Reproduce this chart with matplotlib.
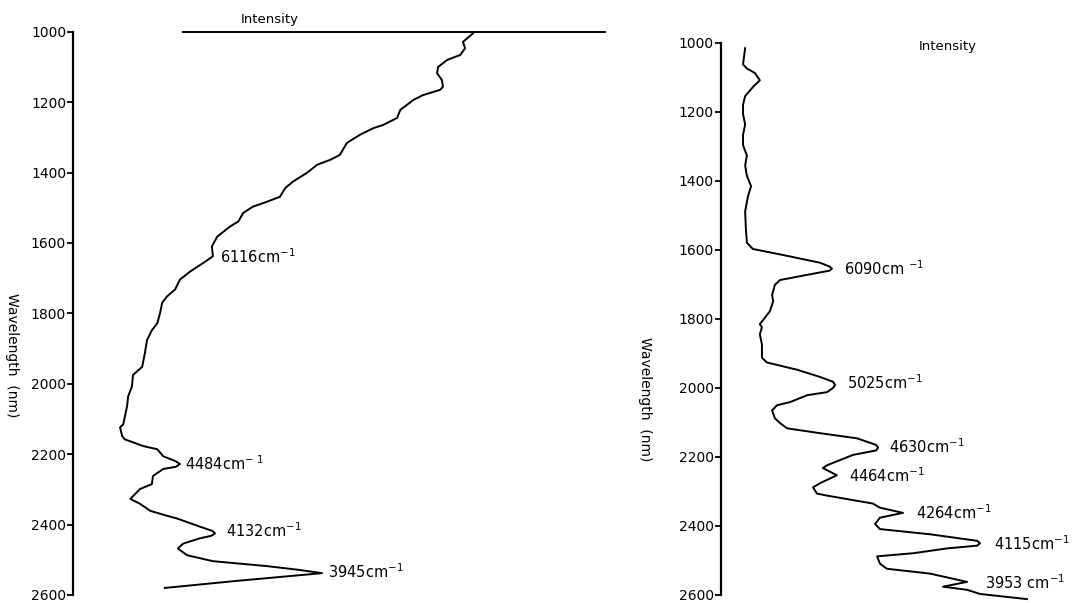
import numpy as np
import matplotlib
matplotlib.use("Agg")
import matplotlib.pyplot as plt

# left spectrum: wavelength (nm) vs intensity (arbitrary units, 0-100)
left_nm = [1004, 1029, 1047, 1066, 1080, 1100, 1118, 1137, 1156, 1165,
           1180, 1194, 1222, 1245, 1265, 1274, 1293, 1316, 1350, 1364,
           1378, 1401, 1426, 1444, 1469, 1483, 1497, 1515, 1539, 1553,
           1582, 1610, 1638, 1657, 1681, 1704, 1732, 1752, 1770, 1800,
           1828, 1848, 1876, 1913, 1952, 1975, 2008, 2036, 2064, 2093,
           2115, 2124, 2149, 2158, 2177, 2186, 2206, 2220, 2228, 2236,
           2242, 2262, 2285, 2299, 2327, 2341, 2361, 2375, 2383, 2406,
           2418, 2425, 2432, 2439, 2454, 2468, 2487, 2504, 2518, 2529,
           2538, 2561, 2580]
left_int = [74.1, 72.2, 72.6, 71.7, 69.3, 67.6, 67.4, 68.3, 68.5, 68.0,
            64.8, 63.0, 60.6, 60.0, 57.4, 55.6, 53.1, 50.7, 49.4, 47.6,
            45.2, 43.3, 40.7, 39.3, 38.3, 35.9, 33.3, 31.5, 30.6, 29.1,
            26.7, 25.7, 25.9, 24.1, 21.7, 19.8, 18.9, 17.4, 16.5, 16.1,
            15.6, 14.6, 13.7, 13.3, 12.8, 11.1, 10.9, 10.2, 10.0, 9.6,
            9.3, 8.7, 9.1, 9.6, 13.0, 15.6, 16.7, 19.0, 19.8, 19.0,
            16.7, 14.8, 14.6, 12.4, 10.6, 12.4, 14.3, 17.4, 19.3, 23.5,
            25.8, 26.3, 25.6, 23.5, 20.4, 19.4, 21.1, 25.9, 35.9, 42.0,
            46.1, 29.6, 17.0]
left_base_int = [20.4, 98.5]   # horizontal reference line at 1000 nm

left_peaks = ["6116cm$^{-1}$", "4484cm$^{-\\ 1}$", "4132cm$^{-1}$", "3945cm$^{-1}$"]
left_peak_nm = [1640, 2228, 2418, 2535]
left_peak_int = [26.9, 20.4, 28.1, 47.0]

# right spectrum
right_nm = [1015, 1062, 1074, 1087, 1108, 1128, 1154, 1179, 1206, 1236,
            1266, 1296, 1326, 1355, 1385, 1415, 1445, 1488, 1536, 1579,
            1597, 1617, 1637, 1648, 1654, 1660, 1665, 1687, 1701, 1730,
            1749, 1777, 1785, 1815, 1824, 1844, 1874, 1912, 1926, 1947,
            1968, 1982, 1991, 2000, 2012, 2021, 2041, 2050, 2065, 2088,
            2102, 2117, 2131, 2146, 2165, 2173, 2181, 2194, 2224, 2232,
            2253, 2276, 2288, 2306, 2312, 2335, 2347, 2362, 2376, 2394,
            2409, 2424, 2443, 2450, 2457, 2465, 2479, 2488, 2509, 2524,
            2538, 2562, 2576, 2585, 2597, 2612]
right_int = [6.9, 6.3, 7.4, 9.7, 11.1, 9.1, 6.9, 6.3, 6.3, 6.9,
             6.3, 6.3, 7.4, 6.9, 7.4, 8.6, 7.7, 6.9, 7.1, 7.4,
             9.1, 18.9, 28.3, 31.0, 31.7, 31.0, 28.3, 16.9, 15.4, 14.6,
             14.9, 14.0, 13.4, 11.1, 11.7, 11.1, 11.7, 11.7, 13.1, 21.7,
             28.3, 32.0, 32.6, 32.0, 30.3, 24.6, 19.7, 16.0, 14.6, 15.4,
             16.9, 18.9, 28.3, 38.9, 44.3, 44.9, 44.3, 37.7, 30.3, 29.1,
             33.1, 28.3, 26.3, 27.4, 30.3, 43.4, 45.4, 52.0, 45.4, 44.0,
             45.4, 59.7, 73.2, 74.0, 73.2, 64.6, 54.9, 44.6, 45.4, 47.4,
             59.7, 70.3, 63.4, 70.3, 74.0, 87.4]

right_peaks = ["6090cm $^{-1}$", "5025cm$^{-1}$", "4630cm$^{-1}$", "4464cm$^{-1}$",
               "4264cm$^{-1}$", "4115cm$^{-1}$", "3953 cm$^{-1}$"]
right_peak_nm = [1655, 1985, 2170, 2255, 2362, 2450, 2565]
right_peak_int = [34.6, 35.4, 47.4, 36.0, 55.1, 77.4, 74.9]

yticks = [1000, 1200, 1400, 1600, 1800, 2000, 2200, 2400, 2600]

fig = plt.figure(figsize=(10.79, 6.03), dpi=100)
ax1 = fig.add_axes([0.0677, 0.0133, 0.5005, 0.9341])
ax2 = fig.add_axes([0.6682, 0.0133, 0.3244, 0.9154])


def style_axis(ax):
    ax.set_ylim(2600, 1000)
    ax.set_xlim(0, 100)
    for s in ["top", "right", "bottom"]:
        ax.spines[s].set_visible(False)
    ax.spines["left"].set_linewidth(1.6)
    ax.set_xticks([])
    ax.set_yticks(yticks)
    ax.tick_params(axis="y", direction="out", length=4, width=1.3,
                   labelsize=10, pad=1)
    ax.patch.set_alpha(0)


style_axis(ax1)
style_axis(ax2)

ax1.plot(left_int, left_nm, color="black", lw=1.4, clip_on=False)
ax1.plot(left_base_int, [1000, 1000], color="black", lw=1.4, clip_on=False)
for lab, y, x in zip(left_peaks, left_peak_nm, left_peak_int):
    ax1.text(x + 0.3, y, lab, fontsize=10.5, va="center", ha="left")
ax1.text(36.5, 965, "Intensity", fontsize=9.5, ha="center", va="center")

ax2.plot(right_int, right_nm, color="black", lw=1.4, clip_on=False)
for lab, y, x in zip(right_peaks, right_peak_nm, right_peak_int):
    ax2.text(x + 0.5, y, lab, fontsize=10.5, va="center", ha="left")
ax2.text(64.9, 1010, "Intensity", fontsize=9.5, ha="center", va="center")

fig.text(12 / 1079, 1 - 355 / 603, "Wavelength  (nm)", rotation=270,
         fontsize=10, ha="center", va="center")
fig.text(645 / 1079, 1 - 399 / 603, "Wavelength  (nm)", rotation=270,
         fontsize=10, ha="center", va="center")

fig.savefig("out.png", dpi=100)
